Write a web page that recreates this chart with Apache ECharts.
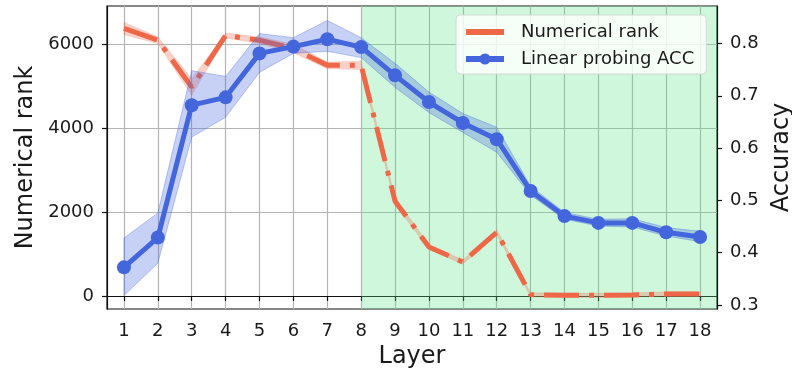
<!DOCTYPE html>
<html>
<head>
<meta charset="utf-8">
<script src="https://cdn.jsdelivr.net/npm/echarts@6/dist/echarts.min.js"></script>
<style>
html,body{margin:0;padding:0;background:#fff;}
#chart{width:792px;height:374px;}
</style>
</head>
<body>
<div id="chart"></div>
<script>
// ---- data ----
var layers = [1,2,3,4,5,6,7,8,9,10,11,12,13,14,15,16,17,18];
var rankMean  = [6380,6100,4980,6210,6100,5900,5500,5500,2260,1170,810,1520,30,20,15,25,50,50];
var rankLower = [6230,6020,4780,6150,6020,5800,5420,5400,2180,1110,760,1460,-20,-30,-35,-25,0,0];
var rankUpper = [6530,6180,5180,6270,6180,6000,5580,5600,2340,1230,860,1580,80,70,65,75,100,100];
var accMean  = [0.372,0.429,0.682,0.697,0.781,0.794,0.808,0.793,0.739,0.688,0.648,0.617,0.518,0.470,0.457,0.457,0.439,0.430];
var accLower = [0.318,0.380,0.621,0.659,0.745,0.781,0.785,0.773,0.716,0.668,0.630,0.592,0.510,0.464,0.451,0.449,0.432,0.421];
var accUpper = [0.428,0.476,0.748,0.737,0.819,0.811,0.844,0.811,0.762,0.707,0.666,0.640,0.527,0.477,0.464,0.465,0.448,0.441];
var rankTicks = [0,2000,4000,6000];
var accTicks = [0.3,0.4,0.5,0.6,0.7,0.8];
var shadeStart = 8;
var seriesNames = ['Numerical rank','Linear probing ACC'];

// ---- style ----
var RED = '#ee6848';
var BLUE = '#4466dd';
var FONT = 'DejaVu Sans';
var TXT = '#1a1a1a';

function pairs(xs, ys){ return xs.map(function(x,i){ return [x, ys[i]]; }); }

function bandSeries(lo, hi, axisIdx, fill, stroke, z){
  return {
    type:'custom', yAxisIndex:axisIdx, silent:true, z:z,
    data:layers.map(function(x,i){ return [x, lo[i], hi[i]]; }),
    encode:{x:0, y:[1,2]},
    renderItem:function(params, api){
      if (params.dataIndex !== 0) return null;
      var pts = [];
      for (var i = 0; i < layers.length; i++) pts.push(api.coord([layers[i], hi[i]]));
      for (var j = layers.length - 1; j >= 0; j--) pts.push(api.coord([layers[j], lo[j]]));
      return {type:'polygon', shape:{points:pts}, style:{fill:fill, stroke:stroke, lineWidth:1}};
    }
  };
}

var chart = echarts.init(document.getElementById('chart'), null, {renderer:'canvas'});
chart.setOption({
  animation:false,
  backgroundColor:'#fff',
  grid:{left:107, right:75, top:6, bottom:65, show:true, borderColor:'#111', borderWidth:1.2,
    backgroundColor:'transparent', containLabel:false, outerBoundsMode:'none'},
  legend:{
    data:[
      {name:seriesNames[0], icon:'path://M0,0 H38 V6 H0 Z', itemStyle:{color:RED, opacity:1, borderWidth:0}},
      {name:seriesNames[1], lineStyle:{width:6, color:BLUE, type:'solid'}, itemStyle:{color:BLUE}}
    ],
    orient:'vertical', left:456, top:15,
    itemWidth:38, itemHeight:14, itemGap:9,
    padding:[8,12,6,7],
    backgroundColor:'rgba(255,255,255,0.8)', borderColor:'#d8d8d8', borderWidth:1, borderRadius:4,
    textStyle:{fontFamily:FONT, fontSize:18, color:TXT, padding:[0,0,0,12]}
  },
  xAxis:{
    type:'value', min:0.5, max:18.5, splitNumber:18,
    name:'Layer', nameLocation:'middle', nameGap:33,
    nameTextStyle:{fontFamily:FONT, fontSize:24, color:TXT},
    axisLine:{show:true, lineStyle:{color:'#111', width:1.2}},
    axisTick:{show:true, length:5, customValues:layers, lineStyle:{color:'#111', width:1.2}},
    axisLabel:{customValues:layers, margin:13, fontFamily:FONT, fontSize:18, color:TXT},
    splitLine:{show:true, lineStyle:{color:'#b4b4b4', width:1.2}}
  },
  yAxis:[{
    type:'value', min:-310, max:6915, position:'left',
    name:'Numerical rank', nameLocation:'middle', nameGap:67,
    nameTextStyle:{fontFamily:FONT, fontSize:24, color:TXT},
    axisLine:{show:true, lineStyle:{color:'#111', width:1.2}},
    axisTick:{show:true, length:5, customValues:rankTicks, lineStyle:{color:'#111', width:1.2}},
    axisLabel:{customValues:rankTicks, margin:13, fontFamily:FONT, fontSize:18, color:TXT,
      formatter:function(v){ return String(v); }},
    splitLine:{show:true, lineStyle:{color:'#b4b4b4', width:1.2}}
  },{
    type:'value', min:0.2924, max:0.8716, position:'right',
    name:'Accuracy', nameLocation:'middle', nameGap:50,
    nameTextStyle:{fontFamily:FONT, fontSize:24, color:TXT},
    axisLine:{show:true, lineStyle:{color:'#111', width:1.2}},
    axisTick:{show:true, length:5, customValues:accTicks, lineStyle:{color:'#111', width:1.2}},
    axisLabel:{customValues:accTicks, margin:13, fontFamily:FONT, fontSize:18, color:TXT,
      formatter:function(v){ return v.toFixed(1); }},
    splitLine:{show:false}
  }],
  series:[
    {
      name:'shade', type:'line', yAxisIndex:0, data:pairs(layers, rankMean),
      symbol:'none', lineStyle:{opacity:0}, silent:true, z:1,
      markArea:{silent:true, itemStyle:{color:'rgba(95,228,138,0.3)'},
        data:[[{xAxis:shadeStart},{xAxis:18.5}]]}
    },
    bandSeries(rankLower, rankUpper, 0, 'rgba(238,104,72,0.3)', 'rgba(238,104,72,0.15)', 2),
    {
      name:seriesNames[0], type:'line', yAxisIndex:0, data:pairs(layers, rankMean),
      symbol:'none', color:RED,
      lineStyle:{color:RED, width:5, type:[35,10,5,10], cap:'butt'}, z:3
    },
    bandSeries(accLower, accUpper, 1, 'rgba(68,102,221,0.3)', 'rgba(68,102,221,0.35)', 4),
    {
      name:seriesNames[1], type:'line', yAxisIndex:1, data:pairs(layers, accMean),
      symbol:'circle', symbolSize:14, color:BLUE,
      itemStyle:{color:BLUE}, lineStyle:{color:BLUE, width:5}, z:5
    }
  ]
});
</script>
</body>
</html>
